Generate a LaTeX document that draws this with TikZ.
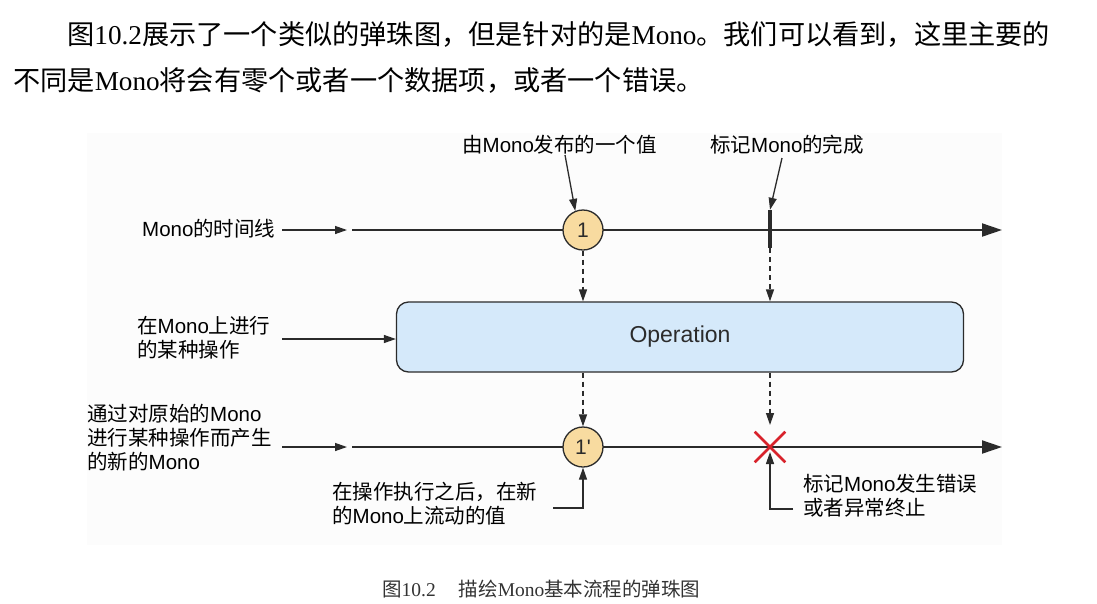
\documentclass[tikz,border=0pt]{standalone}
\usepackage{fontspec}
\setmainfont{Liberation Serif}
\newfontfamily\cjk{Noto Sans CJK SC}
\newfontfamily\arialf{Liberation Sans}
\usetikzlibrary{arrows.meta,shapes.misc,calc}
\definecolor{linec}{HTML}{2B2B2B}
\definecolor{marble}{HTML}{F8DBA0}
\definecolor{opfill}{HTML}{D5E9FA}
\definecolor{errred}{HTML}{D8222B}
\definecolor{bgc}{HTML}{FCFCFC}
\newcommand{\mono}{{\arialf Mono}}
\begin{document}
\begin{tikzpicture}[x=1pt,y=-1pt,
 para/.style={anchor=west,inner sep=0,font=\fontsize{27.2}{28}\cjk},
 lbl/.style={anchor=west,inner sep=0,align=left,font=\fontsize{20.5}{24}\cjk,text=black},
 tline/.style={draw=linec,line width=2,-{Triangle[length=20pt,width=13pt]}},
 sarr/.style={draw=linec,line width=1.3,-{Triangle[length=12pt,width=8pt]}},
 darr/.style={sarr,dash pattern=on 5pt off 4pt},
 marblen/.style={circle,draw=linec,line width=1.3,fill=marble,minimum size=40pt,inner sep=0,font=\fontsize{21}{21}\arialf,text=linec},
 ]
\useasboundingbox (0,0) rectangle (1097,603);
\fill[bgc] (87,133) rectangle (1002,545);

% paragraph
\node[para] (p1) at (67,34) {图{\rmfamily 10.2}展示了一个类似的弹珠图，但是针对的是{\rmfamily Mono}。我们可以看到，这里主要的};
\node[para] (p2) at (13,81) {不同是{\rmfamily Mono}将会有零个或者一个数据项，或者一个错误。};

% labels
\node[lbl] (lt1) at (142,229) {\mono 的时间线};
\node[lbl] (lop) at (137,338) {在\mono 上进行\\的某种操作};
\node[lbl] (lt2) at (87,438) {通过对原始的\mono\\进行某种操作而产生\\的新的\mono};
\node[lbl] (lval) at (332,504) {在操作执行之后，在新\\的\mono 上流动的值};
\node[lbl] (lerr) at (803,496) {标记\mono 发生错误\\或者异常终止};
\node[lbl] (lpub) at (462,145) {由\mono 发布的一个值};
\node[lbl] (ldone) at (710,145) {标记\mono 的完成};

% coordinates
\coordinate (t1s) at (352,230); \coordinate (t1e) at (1002,230);
\coordinate (t2s) at (352,447); \coordinate (t2e) at (1002,447);
\coordinate (a1s) at (282,230); \coordinate (a1e) at (347,230);
\coordinate (a2s) at (282,447); \coordinate (a2e) at (347,447);
\coordinate (a3s) at (282,339);
\coordinate (pubs) at (565,155);
\coordinate (dones) at (782,158);
\coordinate (vals) at (553,508);
\coordinate (errs) at (793,509);

% timelines
\draw[tline] (t1s) -- (t1e);
\draw[tline] (t2s) -- (t2e);

% nodes
\node[marblen] (c1) at (583,230) {1};
\node[marblen] (c2) at (583,447) {1'};
\node[fill=linec,minimum width=4pt,minimum height=38pt,inner sep=0] (tick) at (770,229) {};
\node[draw=errred,cross out,line width=2.6,minimum size=28pt,inner sep=0] (xm) at (770,447) {};
\node[draw=linec,line width=1.3,fill=opfill,rounded corners=12pt,minimum width=567pt,minimum height=70pt,font=\fontsize{23}{23}\arialf,text=linec] (op) at (680,337) {Operation};

% connectors
\draw[sarr] (a1s) -- (a1e);
\draw[sarr] (a2s) -- (a2e);
\draw[sarr] (a3s) -- (a3s -| op.west);
\draw[sarr] (pubs) -- (c1.112);
\draw[sarr] (dones) -- (tick.north);
\draw[darr] (c1.south) -- (c1.south |- op.north);
\draw[darr] (tick.south) -- (tick.south |- op.north);
\draw[darr] (c2 |- op.south) -- (c2.north);
\draw[darr] (xm |- op.south) -- ($(xm.center)+(0,-22)$);
\draw[sarr] (vals) -| (c2.south);
\draw[sarr] (errs) -| ($(xm.center)+(0,5)$);

% caption
\node[anchor=west,inner sep=0,font=\fontsize{19.5}{19.5}\cjk,text=black!80] (cap) at (382,589) {图{\rmfamily 10.2}\hspace{23pt}描绘{\rmfamily Mono}基本流程的弹珠图};
\end{tikzpicture}
\end{document}
